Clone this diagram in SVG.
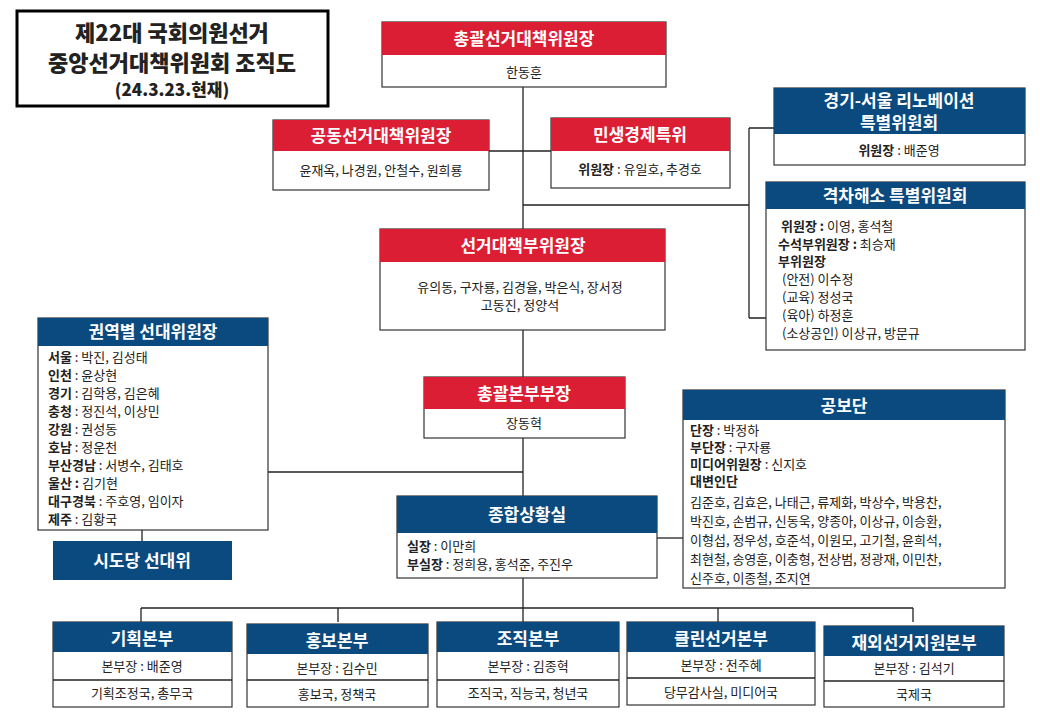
<svg xmlns="http://www.w3.org/2000/svg" width="1040" height="720" viewBox="0 0 1040 720">
<style>
text{font-family:"Noto Sans CJK KR","Noto Sans",sans-serif;fill:#222}
.h{fill:#fff;font-weight:bold;font-size:17px;text-anchor:middle}
.b{font-size:13px}
.c{text-anchor:middle}
.red{fill:#DC1E35}
.blue{fill:#0B4A7E}
.box{fill:#fff;stroke:#333;stroke-width:1.2}
.ln{stroke:#222;stroke-width:1.3;fill:none}
.bd{font-weight:bold}
</style>
<rect width="1040" height="720" fill="#fff"/>
<g id="title">
<rect x="17" y="11" width="311" height="95" fill="#fff" stroke="#000" stroke-width="3"/>
<text x="172" y="41" class="c" font-weight="900" font-size="22">제22대 국회의원선거</text>
<text x="172" y="71" class="c" font-weight="900" font-size="22">중앙선거대책위원회 조직도</text>
<text x="172" y="96" class="c" font-weight="900" font-size="17">(24.3.23.현재)</text>
</g>
<g id="connectors" class="ln">
<path d="M523 87V608"/>
<path d="M489 151H551"/>
<path d="M523 205H749M749 128V318M749 128H774M749 318H766"/>
<path d="M268 472H523"/>
<path d="M142 530V541"/>
<path d="M657 538H683"/>
<path d="M141 608H913M141 608V622M338 608V622M718 608V622M913 608V622M523 608V622"/>
</g>
<g id="n1"><rect class="box" x="382" y="22" width="284" height="65"/><rect class="red" x="382" y="22" width="284" height="33"/>
<text class="h" x="524" y="45">총괄선거대책위원장</text><text class="b c" x="524" y="77">한동훈</text></g>
<g id="n2"><rect class="box" x="273" y="120" width="216" height="70"/><rect class="red" x="273" y="120" width="216" height="31"/>
<text class="h" x="381" y="142">공동선거대책위원장</text><text class="b c" x="381" y="175">윤재옥, 나경원, 안철수, 원희룡</text></g>
<g id="n3"><rect class="box" x="551" y="118" width="179" height="70"/><rect class="red" x="551" y="118" width="179" height="33"/>
<text class="h" x="640" y="141">민생경제특위</text><text class="b c" x="640" y="174"><tspan class="bd">위원장</tspan> : 유일호, 추경호</text></g>
<g id="n4"><rect class="box" x="774" y="88" width="251" height="77"/><rect class="blue" x="774" y="88" width="251" height="46"/>
<text class="h" x="899" y="107" font-size="16">경기-서울 리노베이션</text><text class="h" x="899" y="129" font-size="16">특별위원회</text>
<text class="b c" x="899" y="155"><tspan class="bd">위원장</tspan> : 배준영</text></g>
<g id="n5"><rect class="box" x="766" y="182" width="259" height="168"/><rect class="blue" x="766" y="182" width="259" height="27"/>
<text class="h" x="895" y="202">격차해소 특별위원회</text>
<text class="b" x="781" y="231"><tspan class="bd">위원장 :</tspan> 이영, 홍석철</text>
<text class="b" x="778" y="249"><tspan class="bd">수석부위원장 :</tspan> 최승재</text>
<text class="b bd" x="778" y="266">부위원장</text>
<text class="b" x="782" y="284">(안전) 이수정</text>
<text class="b" x="782" y="302">(교육) 정성국</text>
<text class="b" x="782" y="320">(육아) 하정훈</text>
<text class="b" x="782" y="338">(소상공인) 이상규, 방문규</text></g>
<g id="n6"><rect class="box" x="380" y="229" width="285" height="101"/><rect class="red" x="380" y="229" width="285" height="33"/>
<text class="h" x="523" y="252">선거대책부위원장</text>
<text class="b c" x="520" y="292">유의동, 구자룡, 김경율, 박은식, 장서정</text><text class="b c" x="520" y="310">고동진, 정양석</text></g>
<g id="n7"><rect class="box" x="38" y="318" width="230" height="212"/><rect class="blue" x="38" y="318" width="230" height="28"/>
<text class="h" x="153" y="338">권역별 선대위원장</text>
<g class="b"><text x="48" y="362"><tspan class="bd">서울</tspan> : 박진, 김성태</text>
<text x="48" y="380"><tspan class="bd">인천</tspan> : 윤상현</text>
<text x="48" y="398"><tspan class="bd">경기</tspan> : 김학용, 김은혜</text>
<text x="48" y="416"><tspan class="bd">충청</tspan> : 정진석, 이상민</text>
<text x="48" y="434"><tspan class="bd">강원</tspan> : 권성동</text>
<text x="48" y="452"><tspan class="bd">호남</tspan> : 정운천</text>
<text x="48" y="470"><tspan class="bd">부산경남</tspan> : 서병수, 김태호</text>
<text x="48" y="488"><tspan class="bd">울산 :</tspan>  김기현</text>
<text x="48" y="506"><tspan class="bd">대구경북</tspan> : 주호영, 임이자</text>
<text x="48" y="524"><tspan class="bd">제주</tspan> : 김황국</text></g></g>
<g id="n8"><rect class="blue" x="53" y="541" width="179" height="39"/><text class="h" x="142" y="567">시도당 선대위</text></g>
<g id="n9"><rect class="box" x="424" y="377" width="201" height="61"/><rect class="red" x="424" y="377" width="201" height="32"/>
<text class="h" x="524" y="400">총괄본부부장</text><text class="b c" x="524" y="428">장동혁</text></g>
<g id="n10"><rect class="box" x="397" y="496" width="260" height="82"/><rect class="blue" x="397" y="496" width="260" height="37"/>
<text class="h" x="527" y="521">종합상황실</text>
<text class="b" x="407" y="551"><tspan class="bd">실장</tspan> : 이만희</text>
<text class="b" x="407" y="569"><tspan class="bd">부실장</tspan> : 정희용, 홍석준, 주진우</text></g>
<g id="n11"><rect class="box" x="683" y="390" width="322" height="198"/><rect class="blue" x="683" y="390" width="322" height="30"/>
<text class="h" x="844" y="412">공보단</text>
<g class="b"><text x="690" y="435"><tspan class="bd">단장</tspan> : 박정하</text>
<text x="690" y="452"><tspan class="bd">부단장</tspan> : 구자룡</text>
<text x="690" y="469"><tspan class="bd">미디어위원장</tspan> : 신지호</text>
<text x="690" y="486" class="bd">대변인단</text>
<text x="690" y="507">김준호, 김효은, 나태근, 류제화, 박상수, 박용찬,</text>
<text x="690" y="526">박진호, 손범규, 신동욱, 양종아, 이상규, 이승환,</text>
<text x="690" y="545">이형섭, 정우성, 호준석, 이원모, 고기철, 윤희석,</text>
<text x="690" y="564">최현철, 송영훈, 이충형, 전상범, 정광재, 이민찬,</text>
<text x="690" y="583">신주호, 이종철, 조지연</text></g></g>
<g id="b1"><rect class="box" x="53" y="622" width="179" height="85"/><rect class="blue" x="53" y="622" width="179" height="30"/><path class="ln" d="M53 680H232"/>
<text class="h" x="142" y="645">기획본부</text><text class="b c" x="142" y="671">본부장 : 배준영</text><text class="b c" x="142" y="698">기획조정국, 총무국</text></g>
<g id="b2"><rect class="box" x="247" y="624" width="181" height="83"/><rect class="blue" x="247" y="624" width="181" height="30"/><path class="ln" d="M247 680H428"/>
<text class="h" x="337" y="647">홍보본부</text><text class="b c" x="337" y="673">본부장 : 김수민</text><text class="b c" x="337" y="699">홍보국, 정책국</text></g>
<g id="b3"><rect class="box" x="437" y="622" width="182" height="85"/><rect class="blue" x="437" y="622" width="182" height="30"/><path class="ln" d="M437 680H619"/>
<text class="h" x="528" y="645">조직본부</text><text class="b c" x="528" y="671">본부장 : 김종혁</text><text class="b c" x="528" y="698">조직국, 직능국, 청년국</text></g>
<g id="b4"><rect class="box" x="627" y="622" width="188" height="83"/><rect class="blue" x="627" y="622" width="188" height="30"/><path class="ln" d="M627 678H815"/>
<text class="h" x="721" y="645">클린선거본부</text><text class="b c" x="721" y="670">본부장 : 전주혜</text><text class="b c" x="721" y="697">당무감사실, 미디어국</text></g>
<g id="b5"><rect class="box" x="824" y="626" width="180" height="81"/><rect class="blue" x="824" y="626" width="180" height="30"/><path class="ln" d="M824 681H1004"/>
<text class="h" x="914" y="649">재외선거지원본부</text><text class="b c" x="914" y="673">본부장 : 김석기</text><text class="b c" x="914" y="699">국제국</text></g>
</svg>
